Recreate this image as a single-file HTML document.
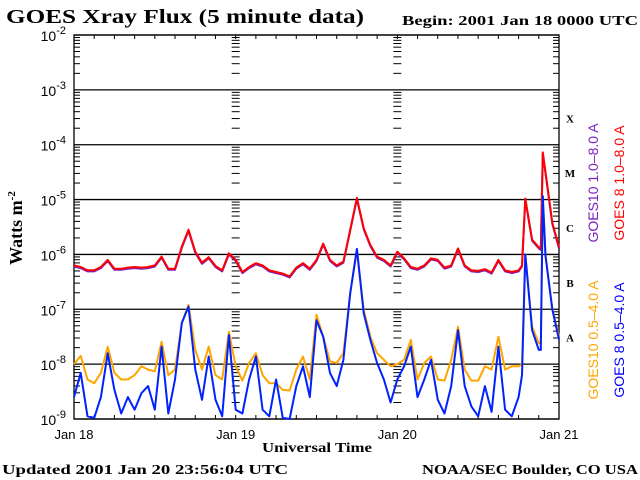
<!DOCTYPE html>
<html><head><meta charset="utf-8"><style>
html,body{margin:0;padding:0;background:#fff;}
svg{display:block;}
</style></head><body>
<svg id="chart" width="640" height="480" viewBox="0 0 640 480" xmlns="http://www.w3.org/2000/svg">
<rect x="0" y="0" width="640" height="480" fill="#fff"/>
<text x="6" y="23" textLength="358" lengthAdjust="spacingAndGlyphs" font-family="Liberation Serif, serif" font-weight="bold" font-size="20">GOES Xray Flux (5 minute data)</text>
<text x="402" y="25" textLength="236" lengthAdjust="spacingAndGlyphs" font-family="Liberation Serif, serif" font-weight="bold" font-size="14">Begin:  2001 Jan 18 0000 UTC</text>
<text transform="translate(22,228) rotate(-90)" text-anchor="middle" font-family="Liberation Serif, serif" font-weight="bold" font-size="18">Watts m<tspan dy="-7" font-size="11">-2</tspan></text>
<text x="262" y="452" textLength="110" lengthAdjust="spacingAndGlyphs" font-family="Liberation Serif, serif" font-weight="bold" font-size="14">Universal Time</text>
<text x="2" y="474" textLength="286" lengthAdjust="spacingAndGlyphs" font-family="Liberation Serif, serif" font-weight="bold" font-size="14">Updated 2001 Jan 20 23:56:04 UTC</text>
<text x="422" y="474" textLength="216" lengthAdjust="spacingAndGlyphs" font-family="Liberation Serif, serif" font-weight="bold" font-size="14">NOAA/SEC Boulder, CO USA</text>
<text transform="translate(598,183) rotate(-90)" text-anchor="middle" fill="#7a1fc0" font-family="Liberation Sans, sans-serif" font-size="14">GOES10 1.0–8.0 A</text>
<text transform="translate(624,183) rotate(-90)" text-anchor="middle" fill="#ff0000" font-family="Liberation Sans, sans-serif" font-size="14">GOES 8 1.0–8.0 A</text>
<text transform="translate(598,340) rotate(-90)" text-anchor="middle" fill="#ffa500" font-family="Liberation Sans, sans-serif" font-size="14">GOES10 0.5–4.0 A</text>
<text transform="translate(624,340) rotate(-90)" text-anchor="middle" fill="#0000ff" font-family="Liberation Sans, sans-serif" font-size="14">GOES 8 0.5–4.0 A</text>
<g id="axes"></g>
<g id="series"></g>
</svg>
<script>
const dayLabels = ["Jan 18","Jan 19","Jan 20","Jan 21"];
const decadeExps = [-2,-3,-4,-5,-6,-7,-8,-9];
const classLetters = ["X","M","C","B","A"];
const hours = [0,1,2,3,4,5,6,7,8,9,10,11,12,13,14,15,16,17,18,19,20,21,22,23,24,25,26,27,28,29,30,31,32,33,34,35,36,37,38,39,40,41,42,43,44,45,46,47,48,49,50,51,52,53,54,55,56,57,58,59,60,61,62,63,64,65,66,66.5,67,68,69,69.3,69.6,70,71,72];
const goes8Long = [-6.2,-6.23,-6.29,-6.29,-6.23,-6.1,-6.26,-6.26,-6.24,-6.23,-6.24,-6.23,-6.2,-6.04,-6.26,-6.26,-5.86,-5.55,-5.95,-6.15,-6.05,-6.21,-6.29,-5.98,-6.1,-6.32,-6.23,-6.16,-6.2,-6.29,-6.32,-6.35,-6.4,-6.24,-6.16,-6.26,-6.1,-5.8,-6.1,-6.2,-6.13,-5.55,-4.97,-5.52,-5.83,-6.04,-6.1,-6.2,-5.95,-6.07,-6.23,-6.26,-6.2,-6.07,-6.1,-6.24,-6.2,-5.89,-6.2,-6.29,-6.3,-6.27,-6.33,-6.1,-6.29,-6.32,-6.29,-6.2,-4.98,-5.73,-5.87,-5.9,-4.14,-4.5,-5.42,-5.87];
const goes10Long = [-6.22,-6.25,-6.31,-6.31,-6.25,-6.12,-6.28,-6.28,-6.26,-6.25,-6.26,-6.25,-6.22,-6.06,-6.28,-6.28,-5.88,-5.57,-5.97,-6.17,-6.07,-6.23,-6.31,-6.0,-6.12,-6.34,-6.25,-6.18,-6.22,-6.31,-6.34,-6.37,-6.42,-6.26,-6.18,-6.28,-6.12,-5.82,-6.12,-6.22,-6.15,-5.57,-4.99,-5.54,-5.85,-6.06,-6.12,-6.22,-5.97,-6.09,-6.25,-6.28,-6.22,-6.09,-6.12,-6.26,-6.22,-5.91,-6.22,-6.31,-6.32,-6.29,-6.35,-6.12,-6.31,-6.34,-6.31,-6.22,-5.0,-5.75,-5.89,-5.92,-4.16,-4.52,-5.44,-5.89];
const goes10Short = [-8.0,-7.85,-8.28,-8.35,-8.16,-7.68,-8.16,-8.28,-8.28,-8.2,-8.04,-8.1,-8.13,-7.59,-8.2,-8.1,-7.25,-6.92,-7.74,-8.1,-7.68,-8.2,-8.28,-7.41,-8.04,-8.3,-7.98,-7.8,-8.2,-8.35,-8.35,-8.47,-8.48,-8.1,-7.86,-8.28,-7.1,-7.5,-7.95,-7.98,-7.8,-6.71,-5.92,-7.01,-7.5,-7.8,-7.92,-8.04,-8.0,-7.92,-7.56,-8.28,-7.98,-7.86,-8.28,-8.3,-7.92,-7.32,-8.1,-8.3,-8.3,-8.04,-8.1,-7.5,-8.1,-8.04,-8.04,-8.0,-6.0,-7.32,-7.62,-7.62,-4.94,-6.0,-6.98,-7.5];
const goes8Short = [-8.6,-8.16,-8.95,-8.98,-8.6,-7.8,-8.47,-8.9,-8.6,-8.83,-8.53,-8.4,-8.83,-7.68,-8.9,-8.28,-7.25,-6.95,-8.1,-8.65,-7.86,-8.65,-8.95,-7.47,-8.83,-8.9,-8.28,-7.86,-8.83,-8.95,-8.28,-8.98,-9.0,-8.4,-8.04,-8.6,-7.2,-7.5,-8.16,-8.4,-7.92,-6.71,-5.9,-7.07,-7.56,-7.98,-8.28,-8.7,-8.28,-8.04,-7.68,-8.6,-8.28,-7.92,-8.65,-8.9,-8.4,-7.38,-8.4,-8.77,-8.95,-8.4,-8.87,-7.68,-8.83,-8.95,-8.6,-8.2,-6.0,-7.38,-7.74,-7.74,-4.94,-6.03,-7.0,-7.55];

const L=74, R=559, T=35, B=419;
const NS="http://www.w3.org/2000/svg";
function xs(h){return L+(R-L)*h/72;}
function ys(e){return T+(B-T)*(-2-e)/7;}
function el(tag,attrs,parent){const e=document.createElementNS(NS,tag);for(const k in attrs)e.setAttribute(k,attrs[k]);parent.appendChild(e);return e;}
const axes=document.getElementById('axes');
const ser=document.getElementById('series');

decadeExps.forEach(function(e){
  const y=ys(e);
  const ln=el('line',{x1:L,x2:R,y1:y,y2:y,stroke:'#000','stroke-width':1.3},axes);
  
  
  const t=el('text',{x:66,y:y+6,'text-anchor':'end','font-family':'Liberation Sans, sans-serif','font-size':14},axes);
  
  
  t.textContent='10';
  const sp=el('tspan',{dy:-7,'font-size':11},t);
  sp.textContent=String(e);
  if(e>-9){
    for(let m=2;m<=9;m++){
      const yy=ys(e-1+Math.log10(m));
      [[L,L+6],[xs(24)-4,xs(24)+4],[xs(48)-4,xs(48)+4],[R-6,R]].forEach(function(p){
        const tk=el('line',{x1:p[0],x2:p[1],y1:yy,y2:yy,stroke:'#000','stroke-width':1},axes);
        
        
      });
    }
  }
});
const fr=el('rect',{x:L,y:T,width:R-L,height:B-T,fill:'none',stroke:'#000','stroke-width':1.3},axes);


for(let h=3;h<72;h+=3){
  const x=xs(h);
  const t1=el('line',{x1:x,x2:x,y1:T,y2:T+4,stroke:'#000'},axes);
  
  
  const t2=el('line',{x1:x,x2:x,y1:B-4,y2:B,stroke:'#000'},axes);
  
  
}
dayLabels.forEach(function(d,i){
  const t=el('text',{x:xs(i*24),y:439,'text-anchor':'middle','font-family':'Liberation Sans, sans-serif','font-size':13},axes);
  
  
  t.textContent=d;
});
classLetters.forEach(function(c,i){
  const t=el('text',{x:570,y:ys(-3.5-i)+5,'text-anchor':'middle','font-family':'Liberation Serif, serif','font-weight':'bold','font-size':11},axes);
  
  
  t.textContent=c;
});
function draw(vals,color,name){
  const pts=hours.map(function(h,i){return xs(h).toFixed(1)+','+ys(vals[i]).toFixed(1);}).join(' ');
  const p=el('polyline',{points:pts,fill:'none',stroke:color,'stroke-width':2,'stroke-linejoin':'round'},ser);
  
  
}
draw(goes10Long,'#7a1fc0','series-goes10-long');
draw(goes8Long,'#ff0000','series-goes8-long');
draw(goes10Short,'#ffa500','series-goes10-short');
draw(goes8Short,'#0022ff','series-goes8-short');
</script>
</body></html>
